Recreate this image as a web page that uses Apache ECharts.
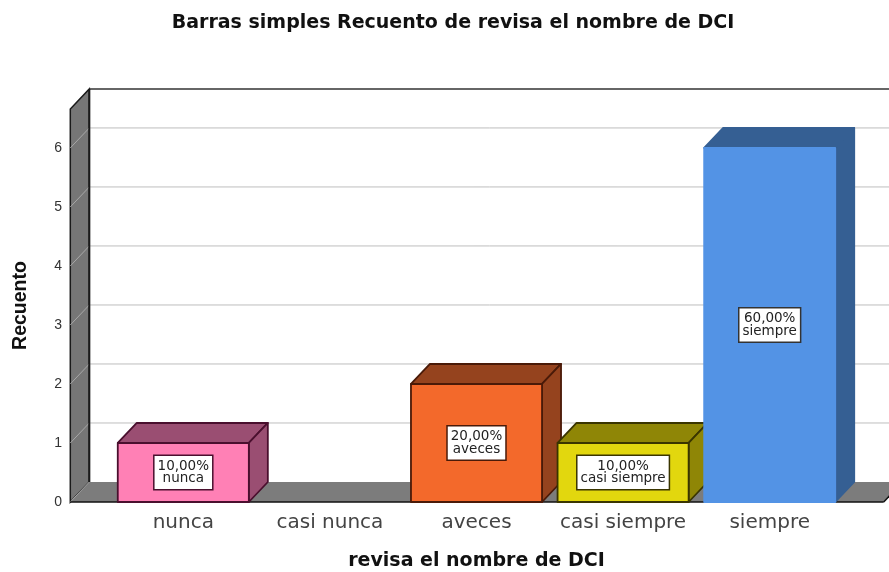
<!DOCTYPE html>
<html>
<head>
<meta charset="utf-8">
<script src="https://cdn.jsdelivr.net/npm/echarts@6/dist/echarts.min.js"></script>
<style>html,body{margin:0;padding:0;background:#fff}#c{width:889px;height:572px}</style>
</head>
<body>
<div id="c"></div>
<script>
const categories = ['nunca', 'casi nunca', 'aveces', 'casi siempre', 'siempre'];
const counts = [1, 0, 2, 1, 6];
const percents = ['10,00%', '0,00%', '20,00%', '10,00%', '60,00%'];
const yTicks = [0, 1, 2, 3, 4, 5, 6];
const yTop = 6.66;

const frontColors = ['#FF80B5', '#888888', '#F3692B', '#E2D70E', '#5393E5'];
const darkColors = ['#9A4E72', '#555555', '#95431E', '#8F8606', '#355F93'];
const edgeColors = ['#4A0F2E', '#222222', '#4A1A08', '#3A3500', null];
const DX = 19, DY = 20;

function renderFrame(params, api) {
  const x0 = api.coord([0, 0])[0] - 113;
  const x1 = api.coord([4, 0])[0] + 114;
  const yB = api.coord([0, 0])[1];
  const yT = api.coord([0, yTop])[1];
  const children = [];
  children.push({ type: 'rect', shape: { x: x0 + DX, y: yT - DY, width: x1 - x0, height: yB - yT }, style: { fill: '#fff' } });
  children.push({ type: 'polygon', shape: { points: [[x0, yB], [x0, yT], [x0 + DX, yT - DY], [x0 + DX, yB - DY]] }, style: { fill: '#767676', stroke: '#1a1a1a', lineWidth: 1.5 } });
  children.push({ type: 'polygon', shape: { points: [[x0, yB], [x0 + DX, yB - DY], [x1 + DX, yB - DY], [x1, yB]] }, style: { fill: '#7C7C7C' } });
  yTicks.forEach(function (t) {
    const y = api.coord([0, t])[1];
    if (t > 0) {
      children.push({ type: 'line', shape: { x1: x0 + DX, y1: y - DY, x2: x1 + DX, y2: y - DY }, style: { stroke: '#BEBEBE', lineWidth: 1 } });
    }
    children.push({ type: 'line', shape: { x1: x0, y1: y, x2: x0 + DX, y2: y - DY }, style: { stroke: '#A8A8A8', lineWidth: 1 } });
  });
  children.push({ type: 'line', shape: { x1: x0 + DX, y1: yT - DY, x2: x1 + DX, y2: yT - DY }, style: { stroke: '#333', lineWidth: 1.6 } });
  children.push({ type: 'line', shape: { x1: x0 + DX, y1: yT - DY, x2: x0 + DX, y2: yB - DY }, style: { stroke: '#1a1a1a', lineWidth: 2 } });
  children.push({ type: 'line', shape: { x1: x0, y1: yB, x2: x1, y2: yB }, style: { stroke: '#111', lineWidth: 1.5 } });
  children.push({ type: 'line', shape: { x1: x1, y1: yB, x2: x1 + DX, y2: yB - DY }, style: { stroke: '#111', lineWidth: 1.5 } });
  return { type: 'group', children: children };
}

function renderBar(params, api) {
  const i = api.value(0);
  const v = api.value(1);
  if (!v) return null;
  const c = api.coord([i, v]);
  const b = api.coord([i, 0]);
  const w = api.size([1, 0])[0] * 0.894;
  const xl = c[0] - w / 2, xr = c[0] + w / 2;
  const yt = c[1], yb = b[1];
  const edge = edgeColors[i];
  const face = function (fill) {
    return { fill: fill, stroke: edge || fill, lineWidth: 1.8, lineJoin: 'round' };
  };
  return {
    type: 'group',
    children: [
      { type: 'polygon', shape: { points: [[xl, yt], [xl + DX, yt - DY], [xr + DX, yt - DY], [xr, yt]] }, style: face(darkColors[i]) },
      { type: 'polygon', shape: { points: [[xr, yt], [xr + DX, yt - DY], [xr + DX, yb - DY], [xr, yb]] }, style: face(darkColors[i]) },
      { type: 'rect', shape: { x: xl, y: yt, width: w, height: yb - yt }, style: face(frontColors[i]) },
      {
        type: 'text', x: c[0], y: (yt + yb) / 2,
        style: {
          text: percents[i] + '\n' + categories[i],
          align: 'center', verticalAlign: 'middle',
          font: '13.5px "DejaVu Sans", sans-serif',
          lineHeight: 12.5, fill: '#222',
          backgroundColor: '#fff', borderColor: edge || '#333', borderWidth: 1.5,
          padding: [4, 3, 4, 3]
        }
      }
    ]
  };
}

const chart = echarts.init(document.getElementById('c'), null, { renderer: 'canvas' });
chart.setOption({
  animation: false,
  backgroundColor: '#fff',
  title: {
    text: 'Barras simples Recuento de revisa el nombre de DCI',
    left: 448, top: 9, textAlign: 'center',
    textStyle: { fontFamily: '"DejaVu Sans", sans-serif', fontSize: 19, fontWeight: 'bold', color: '#111' }
  },
  grid: { left: 110, top: 109, width: 733, height: 393, containLabel: false, outerBoundsMode: 'none' },
  xAxis: {
    type: 'category', data: categories,
    name: 'revisa el nombre de DCI', nameLocation: 'middle', nameGap: 50,
    nameTextStyle: { fontFamily: '"DejaVu Sans", sans-serif', fontSize: 19, fontWeight: 'bold', color: '#111' },
    axisLine: { show: false }, axisTick: { show: false },
    axisLabel: { margin: 11, interval: 0, fontFamily: '"DejaVu Sans", sans-serif', fontSize: 20, color: '#444' }
  },
  yAxis: {
    type: 'value', min: 0, max: yTop, interval: 1,
    name: 'Recuento', nameLocation: 'middle', nameGap: 79, nameRotate: 90,
    nameTextStyle: { fontFamily: '"Liberation Sans", Arial, sans-serif', fontSize: 19.5, fontWeight: 'bold', color: '#111' },
    axisLine: { show: false }, axisTick: { show: false }, splitLine: { show: false },
    axisLabel: {
      margin: 48, showMaxLabel: false, padding: [3, 0, 0, 0], fontFamily: '"Liberation Sans", Arial, sans-serif', fontSize: 14, color: '#333',
      formatter: function (v) { return yTicks.indexOf(v) >= 0 ? String(v) : ''; }
    }
  },
  series: [
    { type: 'custom', silent: true, z: 1, renderItem: renderFrame, data: [[0, 0]], encode: { x: 0, y: 1 } },
    { type: 'custom', silent: true, z: 2, renderItem: renderBar, data: counts.map(function (v, i) { return [i, v]; }), encode: { x: 0, y: 1 } }
  ]
});
</script>
</body>
</html>
